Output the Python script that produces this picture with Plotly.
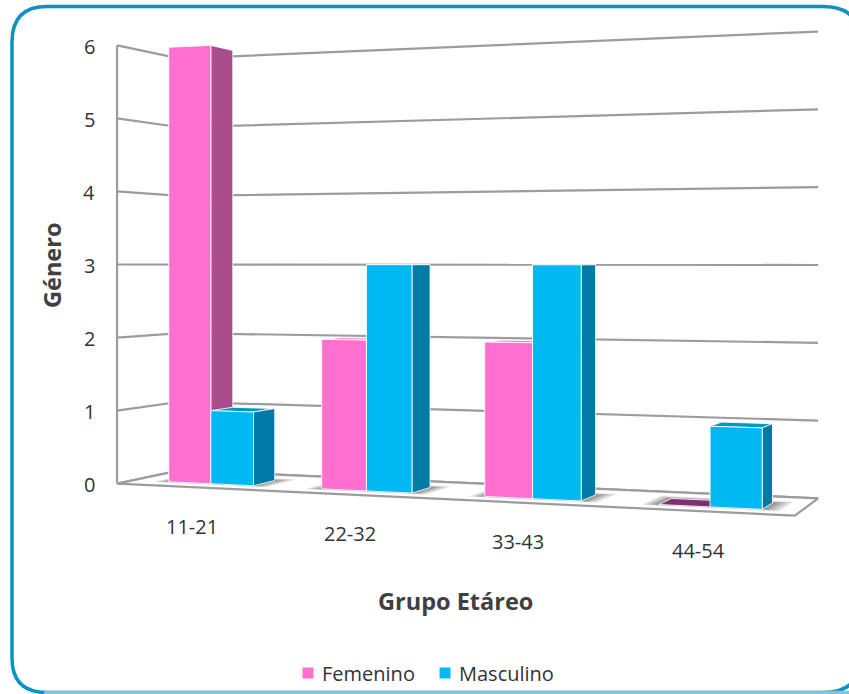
import numpy as np
import plotly.graph_objects as go

categories = ["11-21", "22-32", "33-43", "44-54"]
femenino = [6, 2, 2, 0]
masculino = [1, 3, 3, 1]
value_ticks = [0, 1, 2, 3, 4, 5, 6]

PINK, PINK_SIDE, PINK_TOP, PINK_FLAT = "#FF6FD0", "#A94D8D", "#E88CC8", "#7F2F6D"
BLUE, BLUE_SIDE, BLUE_TOP = "#00B8F2", "#007BA8", "#0096C8"
GRID = "#9C9C9C"
TEXT = "#333333"
FONT = "Open Sans"

# camera calibration: world (category, value, depth) -> page pixels
world = [(0,0,0),(0,6,0),(4,0,0),(4,6,0),(0,0,1),(0,6,1),(4,0,1),(4,6,1)]
page = [(117,484),(117,45),(793,515),(793,15),(180,470),(180,59),(818,499),(818,31)]
A, b = [], []
for (X,Y,Z),(u,v) in zip(world,page):
    A.append([X,Y,Z,1,0,0,0,0,-u*X,-u*Y,-u*Z]); b.append(u)
    A.append([0,0,0,0,X,Y,Z,1,-v*X,-v*Y,-v*Z]); b.append(v)
m = np.linalg.lstsq(np.array(A,float),np.array(b,float),rcond=None)[0]
P = np.append(m,1.0).reshape(3,4)

def proj(X,Y,Z):
    h = P @ np.array([X,Y,Z,1.0])
    return h[0]/h[2], h[1]/h[2]

fig = go.Figure()

def line(points, color=GRID, width=2.2):
    pts = [proj(*p) for p in points]
    fig.add_trace(go.Scatter(x=[p[0] for p in pts], y=[p[1] for p in pts], mode="lines",
                             line=dict(color=color,width=width), hoverinfo="skip", showlegend=False))

def face(points, color, edge="rgba(255,255,255,0.85)", width=1):
    pts = [proj(*p) for p in points]
    fig.add_trace(go.Scatter(x=[p[0] for p in pts]+[pts[0][0]], y=[p[1] for p in pts]+[pts[0][1]],
                             mode="lines", fill="toself", fillcolor=color,
                             line=dict(color=edge,width=width), hoverinfo="skip", showlegend=False))

# walls
for v in value_ticks:
    line([(0,v,0),(0,v,1),(4,v,1)])
line([(0,0,0),(0,6,0)])
# floor
face([(0,0,0),(4.01,0,0),(4,0,1),(0,0,1)], "#FFFFFF", edge=GRID, width=2.2)

BAR_START, BAR_W, Z0, Z1 = 0.24, 0.281, 0.25, 0.62

# floor shadows
for i in range(4):
    for grow in (0.12, 0.085, 0.055, 0.03):
        a, c = i+BAR_START-grow*0.7, i+BAR_START+2*BAR_W+grow*0.8
        face([(a,0,Z0-grow*0.4),(c,0,Z0-grow*0.4),(c,0,Z1+grow),(a,0,Z1+grow)],
             "rgba(60,60,60,0.17)", edge="rgba(0,0,0,0)", width=0)

def bar(x0, x1, val, front, side, top):
    if val == 0:
        face([(x0,0,Z0),(x1,0,Z0),(x1,0,Z1),(x0,0,Z1)], PINK_FLAT)
        return
    face([(x0,val,Z0),(x1,val,Z0),(x1,val,Z1),(x0,val,Z1)], top)
    face([(x1,0,Z0),(x1,0,Z1),(x1,val,Z1),(x1,val,Z0)], side)
    face([(x0,0,Z0),(x1,0,Z0),(x1,val,Z0),(x0,val,Z0)], front)

for i,(f,mv) in enumerate(zip(femenino,masculino)):
    s = i+BAR_START
    bar(s, s+BAR_W, f, PINK, PINK_SIDE, PINK_TOP)
    bar(s+BAR_W, s+2*BAR_W, mv, BLUE, BLUE_SIDE, BLUE_TOP)

# legend entries
for name,color,xm in (("Femenino",PINK,308),("Masculino",BLUE,445)):
    fig.add_trace(go.Scatter(x=[xm],y=[673],mode="markers",name=name,showlegend=False,hoverinfo="skip",
                             marker=dict(symbol="square",size=11,color=color)))

ann = []
for name,xt in (("Femenino",320),("Masculino",457)):
    ann.append(dict(x=xt,y=673,text=name,xanchor="left",showarrow=False,font=dict(family=FONT,size=20,color=TEXT)))
for v in value_ticks:
    x,y = proj(0,v,0)
    ann.append(dict(x=89,y=y+1,text=str(v),showarrow=False,font=dict(family=FONT,size=20,color=TEXT)))
for i,c in enumerate(categories):
    x,y = proj(i+0.5,0,0)
    ann.append(dict(x=x,y=y+39,text=c,showarrow=False,font=dict(family=FONT,size=20,color=TEXT)))
ann.append(dict(x=52,y=266,text="<b>Género</b>",textangle=-90,showarrow=False,font=dict(family=FONT,size=23.5,color="#404040")))
ann.append(dict(x=455,y=601,text="<b>Grupo Etáreo</b>",showarrow=False,font=dict(family=FONT,size=23.5,color="#404040")))

fig.update_layout(
    width=849,height=694,autosize=False,margin=dict(l=0,r=0,t=0,b=0),
    paper_bgcolor="white",plot_bgcolor="white",showlegend=False,
    xaxis=dict(range=[0,849],visible=False,fixedrange=True),
    yaxis=dict(range=[694,0],visible=False,fixedrange=True),
    annotations=ann,
    shapes=[dict(type="path",xref="x",yref="y",
                 path="M 12,42 Q 12,6.5 47,6.5 L 823,6.5 Q 860,6.5 860,42 L 860,658 Q 860,692.5 823,692.5 L 47,692.5 Q 12,692.5 12,658 Z",
                 line=dict(color="#0E91C3",width=3.5),layer="above"),
            dict(type="line",xref="x",yref="y",x0=44,x1=849,y0=692.5,y1=692.5,
                 line=dict(color="#85C3DD",width=3.5),layer="above")],
)
fig.write_html("out.html", config=dict(displayModeBar=False),
               post_script="document.body.style.margin='0';document.documentElement.style.overflow='hidden';")
